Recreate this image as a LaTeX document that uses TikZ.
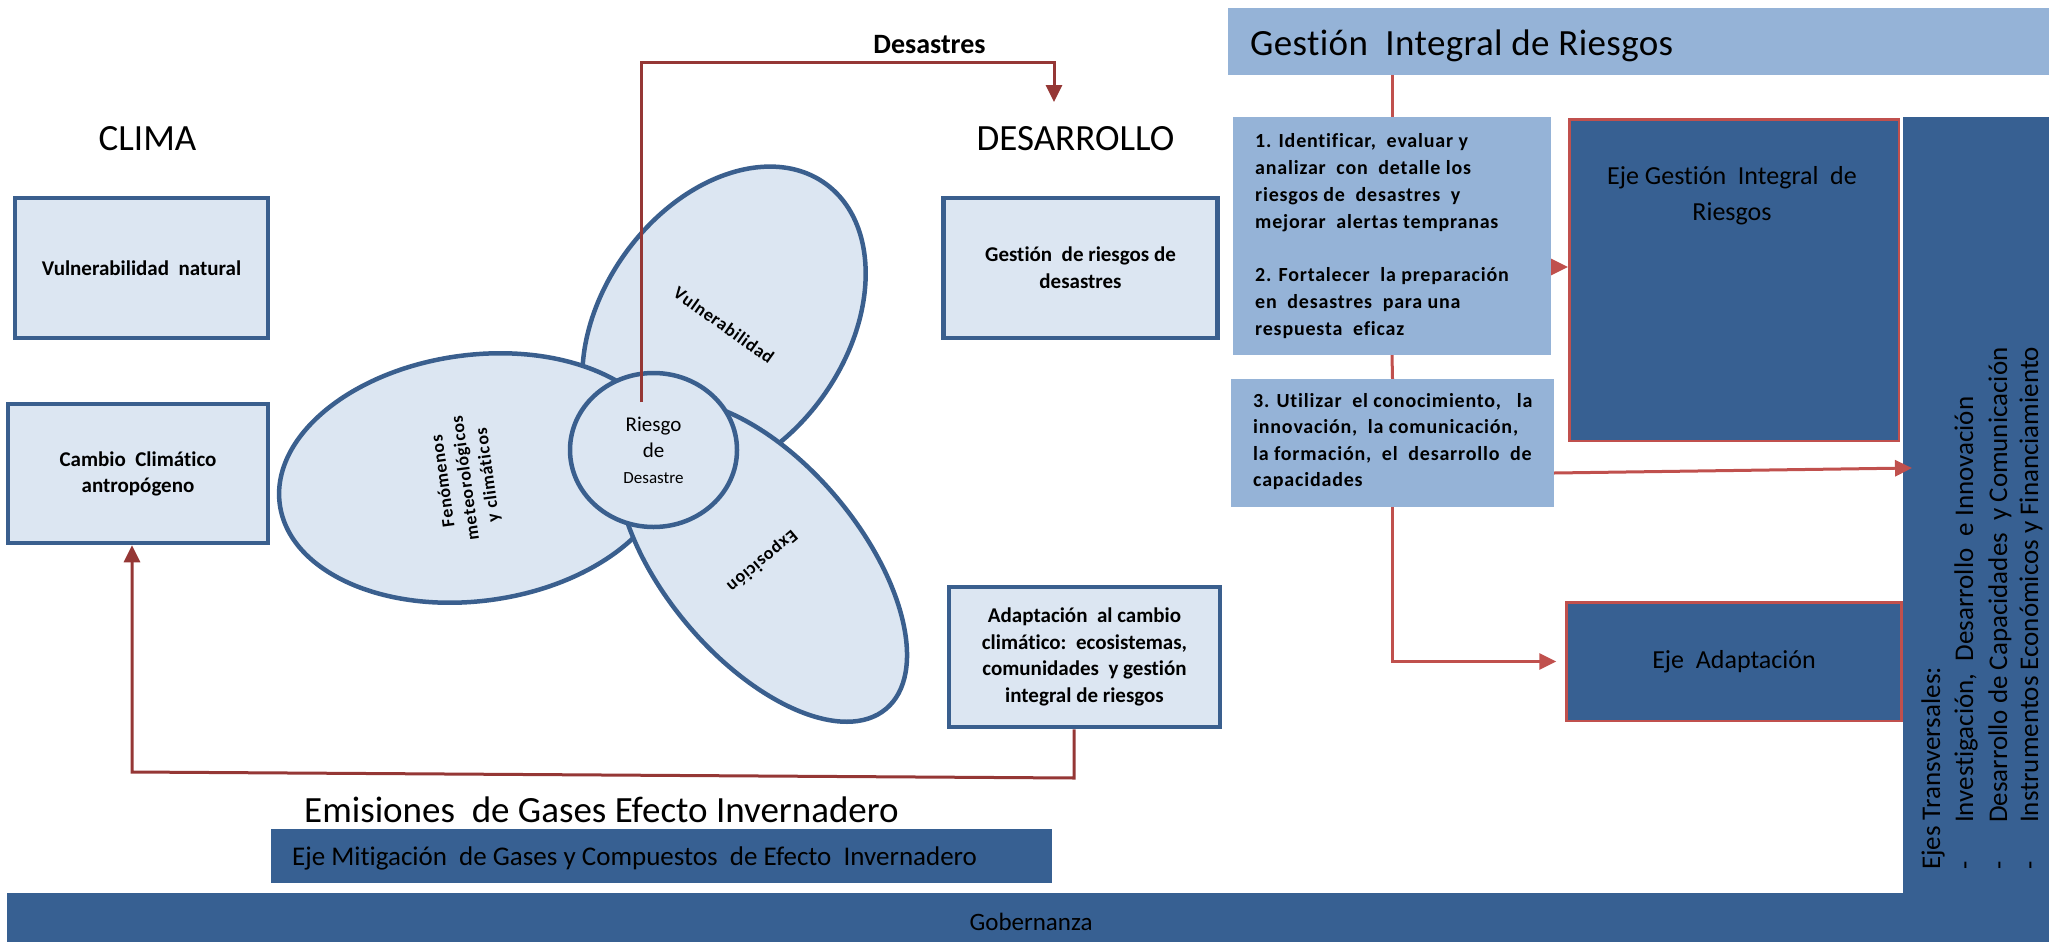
\documentclass[tikz,border=0pt]{standalone}
\usepackage{fontspec}
\setmainfont{Carlito}[Ligatures=NoCommon]
\usetikzlibrary{shapes.geometric,arrows.meta,calc}
\definecolor{lightfill}{HTML}{DCE6F2}
\definecolor{darkline}{HTML}{3A5F8E}
\definecolor{midblue}{HTML}{95B3D7}
\definecolor{deepblue}{HTML}{376092}
\definecolor{redl}{HTML}{C0504D}
\definecolor{redd}{HTML}{953735}
\newcommand\fsz[2]{\fontsize{#1}{#2}\selectfont}
\tikzset{
  lbox/.style={draw=darkline, line width=4.5pt, fill=lightfill, inner sep=0pt, align=center},
  petal/.style={ellipse, draw=darkline, line width=4.5pt, fill=lightfill, inner sep=0pt, align=center},
  mbox/.style={fill=midblue, inner sep=0pt},
  dbox/.style={fill=deepblue, draw=redl, line width=2.5pt, inner sep=0pt, align=center},
  dpanel/.style={fill=deepblue, inner sep=0pt},
  darr/.style={draw=redd, line width=3pt, -{Triangle[width=16pt,length=17pt]}},
  rline/.style={draw=redl, line width=3pt},
  rarr/.style={draw=redl, line width=3pt, -{Triangle[width=16pt,length=17pt]}},
  bigtxt/.style={font={\fsz{37}{40}}, inner sep=0pt},
}
\begin{document}
\begin{tikzpicture}[x=1pt,y=-1pt]
\useasboundingbox (0,0) rectangle (2049,942);

% titles
\node[bigtxt, anchor=base] (clima) at (147.5,150) {CLIMA};
\node[bigtxt, anchor=base] (desa) at (1075.5,150) {DESARROLLO};
\node[anchor=base, inner sep=0pt, font={\bfseries\fsz{28}{30}}] (desastres) at (929.5,53) {Desastres};

% left light boxes
\node[lbox, minimum width=253pt, minimum height=140pt, font={\bfseries\fsz{21}{25}}] (vn) at (141.5,268) {Vulnerabilidad\ \ natural};
\node[lbox, minimum width=260pt, minimum height=139pt, font={\bfseries\fsz{21}{26}}] (cc) at (138,473.5) {Cambio\ \ Climático\\antropógeno};
\node[lbox, minimum width=274pt, minimum height=140pt, font={\bfseries\fsz{21}{27}}] (grd) at (1080.5,268) {Gestión\ \ de riesgos de\\desastres};
\node[lbox, minimum width=271pt, minimum height=140pt, font={\bfseries\fsz{21}{26.5}}] (adap) at (1084.5,657) {Adaptación\ \ al cambio\\climático:\ \ ecosistemas,\\comunidades\ \ y gestión\\integral\ de riesgos};

% petals
\node[petal, minimum width=244pt, minimum height=348pt, rotate=-35.5, font={\bfseries\fsz{18}{21}\addfontfeatures{LetterSpace=4}}] (vul) at (724,325) {Vulnerabilidad};
\node[petal, minimum width=246pt, minimum height=394pt, rotate=97.7] (fen) at (475,478) {};
\node[rotate=97.7, inner sep=0pt, align=center, font={\bfseries\fsz{18}{22.5}\addfontfeatures{LetterSpace=4}}] (fent) at (466,478) {Fenómenos\\meteorológicos\\y climáticos};
\node[petal, minimum width=196pt, minimum height=386pt, rotate=220, font={\bfseries\fsz{18}{21}\addfontfeatures{LetterSpace=4}}] (expo) at (762,561) {Exposición};
\node[petal, minimum width=167pt, minimum height=154pt, font={\fsz{21}{26}}] (rd) at (653.5,450) {Riesgo\\de\\\fsz{17}{25}Desastre};

% left connectors
\coordinate (d0) at (641,402);
\coordinate (d1) at (641,63);
\coordinate (d2) at (1054,63);
\coordinate (d3) at (1054,102);
\draw[darr] (d0) -- (d1) -- (d2) -- (d3);
\coordinate (a1) at (1074,778);
\coordinate (a2) at (132,772);
\draw[darr] (adap.south -| a1) -- (a1) -- (a2) -- (cc.south -| a2);

% right part
\node[mbox, minimum width=821pt, minimum height=67pt] (hdr) at (1638.5,41.5) {};
\node[bigtxt, anchor=base west, font={\fsz{37}{40}\addfontfeatures{LetterSpace=1}}] (hdrt) at (1250,56) {Gestión\ \ Integral de Riesgos};

\node[mbox, minimum width=318pt, minimum height=238pt] (b1) at (1392,236) {};
\node[anchor=north west, inner sep=0pt, align=left, font={\bfseries\fsz{20}{27}\addfontfeatures{LetterSpace=4}}] (b1t) at (1255,133)
  {1. Identificar,\ \ evaluar y\\analizar\ \ con\ \ detalle los\\riesgos de\ \ desastres\ \ y\\mejorar\ \ alertas tempranas\\[26pt]2. Fortalecer\ \ la preparación\\en\ \ desastres\ \ para una\\respuesta\ \ eficaz};
\node[mbox, minimum width=323pt, minimum height=128pt] (b2) at (1392.5,443) {};
\node[anchor=north west, inner sep=0pt, align=left, font={\bfseries\fsz{20}{26.5}\addfontfeatures{LetterSpace=4}}] (b2t) at (1253,393)
  {3. Utilizar\ \ el conocimiento,\ \ \ la\\innovación,\ \ la comunicación,\\la formación,\ \ el\ \ desarrollo\ \ de\\capacidades};

\node[dbox, minimum width=329.5pt, minimum height=321.5pt] (gir) at (1734,280) {};
\node[align=center, inner sep=0pt, font={\fsz{26}{36}}] (girt) at (1732,195.5) {Eje Gestión\ \ Integral\ \ de\\Riesgos};
\node[dbox, minimum width=335pt, minimum height=118.5pt, font={\fsz{26}{30}}] (ada) at (1734,661.5) {Eje\ \ Adaptación};

\node[dpanel, minimum width=146pt, minimum height=776pt] (ejes) at (1976,505) {};
\node[dpanel, minimum width=2042pt, minimum height=49pt] (gob) at (1028,917.5) {};
\node[anchor=base, inner sep=0pt, font={\fsz{25}{30}}] (gobt) at (1031,930) {Gobernanza};

\node[dpanel, minimum width=781pt, minimum height=54pt] (mit) at (661.5,856) {};
\node[anchor=base west, inner sep=0pt, font={\fsz{27}{30}}] (mitt) at (292,865) {Eje Mitigación\ \ de Gases y Compuestos\ \ de Efecto\ \ Invernadero};
\node[anchor=base west, inner sep=0pt, font={\fsz{37}{40}}] (emi) at (304,822) {Emisiones\ \ de Gases Efecto Invernadero};

\node[rotate=90, anchor=base west, inner sep=0pt, font={\fsz{27}{30}}] (ej0) at (1940,870) {Ejes Transversales:};
\node[rotate=90, anchor=base west, inner sep=0pt, font={\fsz{27}{30}}] (ej1) at (1973,870) {\makebox[47pt][l]{-}Investigación,\ \ Desarrollo\ \ e Innovación};
\node[rotate=90, anchor=base west, inner sep=0pt, font={\fsz{27}{30}}] (ej2) at (2007,870) {\makebox[47pt][l]{-}Desarrollo de Capacidades\ \ y Comunicación};
\node[rotate=90, anchor=base west, inner sep=0pt, font={\fsz{27}{30}}] (ej3) at (2038,870) {\makebox[47pt][l]{-}Instrumentos Económicos y Financiamiento};

% right connectors
\draw[rline] (hdr.south -| b1.north) -- (b1.north);
\draw[rline] (b1.south) -- (b2.north);
\draw[rarr, shorten >=9pt] (b2.south) -- (b2.south |- ada.west) -- (ada.west);
\coordinate (e1) at (1551,267);
\draw[rarr] (b1.east |- e1) -- (gir.west |- e1);
\coordinate (e2) at (1554,473);
\coordinate (e3) at (1912,468);
\draw[rarr] (b2.east |- e2) -- (e3);
\end{tikzpicture}
\end{document}
